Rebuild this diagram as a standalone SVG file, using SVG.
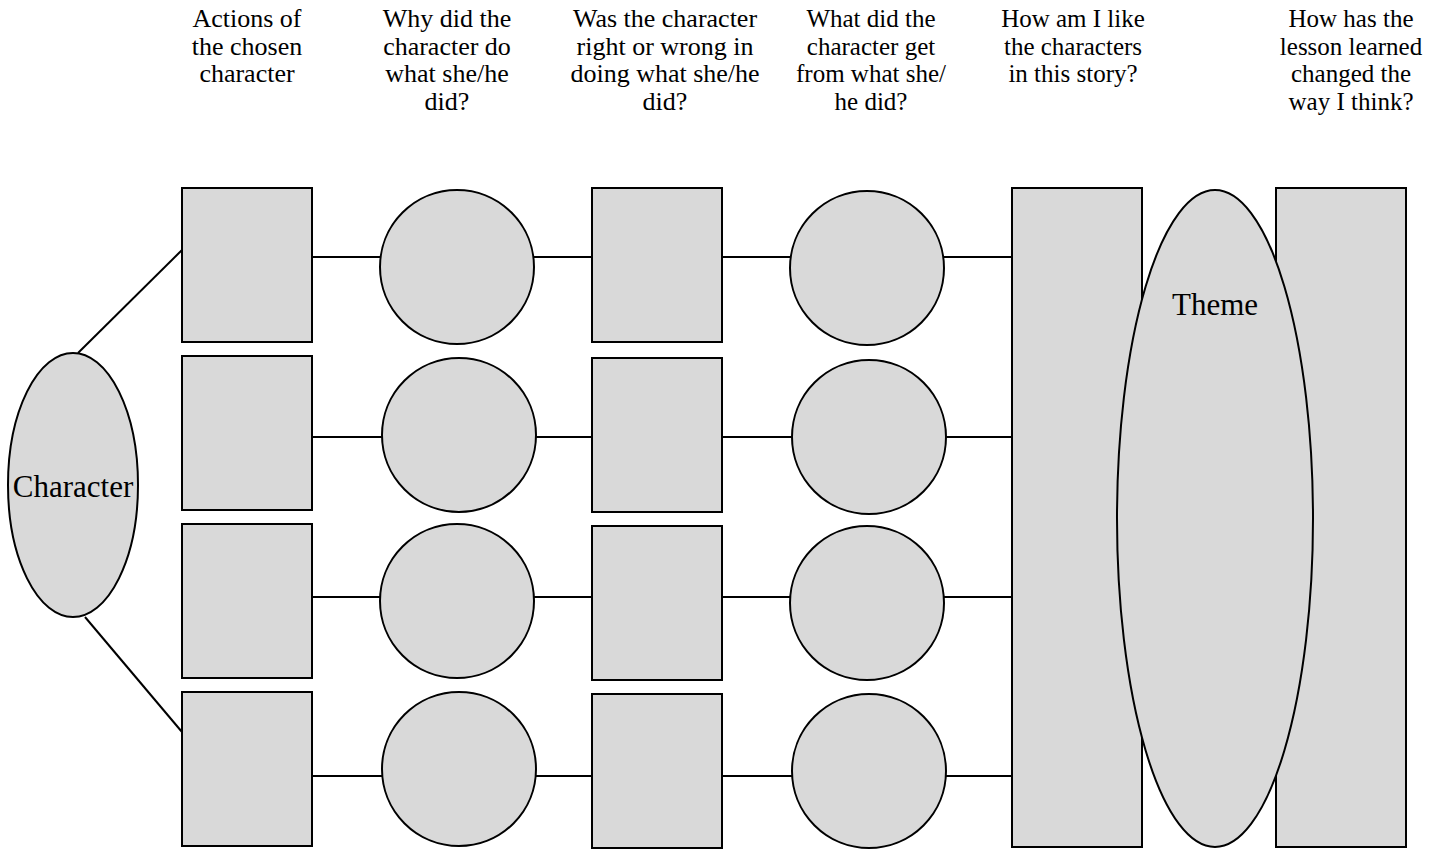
<svg xmlns="http://www.w3.org/2000/svg" width="1440" height="849" viewBox="0 0 1440 849">
<style>
.s{fill:#d9d9d9;stroke:#000;stroke-width:2}
.c{stroke:#000;stroke-width:2;fill:none}
.h{font-family:"Liberation Serif","Times New Roman",serif;font-size:26px;fill:#000;text-anchor:middle}
.h2{font-family:"Liberation Serif","Times New Roman",serif;font-size:25px;fill:#000;text-anchor:middle}
.l{font-family:"Liberation Serif","Times New Roman",serif;font-size:31px;fill:#000;text-anchor:middle}
</style>
<rect width="1440" height="849" fill="#fff"/>
<g id="headers">
<text class="h"><tspan x="247" y="27">Actions of</tspan><tspan x="247" y="54.5">the chosen</tspan><tspan x="247" y="82">character</tspan></text>
<text class="h"><tspan x="447" y="27">Why did the</tspan><tspan x="447" y="54.5">character do</tspan><tspan x="447" y="82">what she/he</tspan><tspan x="447" y="110">did?</tspan></text>
<text class="h"><tspan x="665" y="27">Was the character</tspan><tspan x="665" y="54.5">right or wrong in</tspan><tspan x="665" y="82">doing what she/he</tspan><tspan x="665" y="110">did?</tspan></text>
<text class="h2"><tspan x="871" y="27">What did the</tspan><tspan x="871" y="54.5">character get</tspan><tspan x="871" y="82">from what she/</tspan><tspan x="871" y="110">he did?</tspan></text>
<text class="h2"><tspan x="1073" y="27">How am I like</tspan><tspan x="1073" y="54.5">the characters</tspan><tspan x="1073" y="82">in this story?</tspan></text>
<text class="h2"><tspan x="1351" y="27">How has the</tspan><tspan x="1351" y="54.5">lesson learned</tspan><tspan x="1351" y="82">changed the</tspan><tspan x="1351" y="110">way I think?</tspan></text>
</g>
<g id="connectors">
<line class="c" x1="78" y1="353" x2="182" y2="250"/>
<line class="c" x1="85" y1="617" x2="182" y2="732"/>
<line class="c" x1="312" y1="257" x2="1012" y2="257"/>
<line class="c" x1="312" y1="437" x2="1012" y2="437"/>
<line class="c" x1="312" y1="597" x2="1012" y2="597"/>
<line class="c" x1="312" y1="776" x2="1012" y2="776"/>
</g>
<g id="character">
<ellipse class="s" cx="73" cy="485" rx="65" ry="132"/>
<text class="l" x="73" y="497">Character</text>
</g>
<g id="actions">
<rect class="s" x="182" y="188" width="130" height="154"/>
<rect class="s" x="182" y="356" width="130" height="154"/>
<rect class="s" x="182" y="524" width="130" height="154"/>
<rect class="s" x="182" y="692" width="130" height="154"/>
</g>
<g id="why">
<circle class="s" cx="457" cy="267" r="77"/>
<circle class="s" cx="459" cy="435" r="77"/>
<circle class="s" cx="457" cy="601" r="77"/>
<circle class="s" cx="459" cy="769" r="77"/>
</g>
<g id="rightwrong">
<rect class="s" x="592" y="188" width="130" height="154"/>
<rect class="s" x="592" y="358" width="130" height="154"/>
<rect class="s" x="592" y="526" width="130" height="154"/>
<rect class="s" x="592" y="694" width="130" height="154"/>
</g>
<g id="got">
<circle class="s" cx="867" cy="268" r="77"/>
<circle class="s" cx="869" cy="437" r="77"/>
<circle class="s" cx="867" cy="603" r="77"/>
<circle class="s" cx="869" cy="771" r="77"/>
</g>
<g id="like">
<rect class="s" x="1012" y="188" width="130" height="659"/>
</g>
<g id="changed">
<rect class="s" x="1276" y="188" width="130" height="659"/>
</g>
<g id="theme">
<ellipse class="s" cx="1215" cy="518.5" rx="98" ry="328.5"/>
<text class="l" x="1215" y="315">Theme</text>
</g>
</svg>
